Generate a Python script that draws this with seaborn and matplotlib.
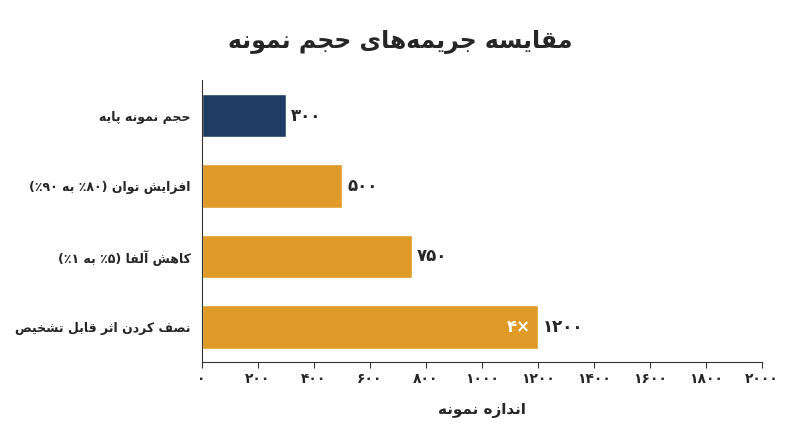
import matplotlib
matplotlib.use("Agg")
import matplotlib.pyplot as plt
import seaborn as sns
import pandas as pd

# simple Persian shaping (no external reshaper available)
FORMS = {
    'ا': (0xFE8D, 0xFE8E, None, None), 'آ': (0xFE81, 0xFE82, None, None),
    'ب': (0xFE8F, 0xFE90, 0xFE91, 0xFE92), 'ت': (0xFE95, 0xFE96, 0xFE97, 0xFE98),
    'ث': (0xFE99, 0xFE9A, 0xFE9B, 0xFE9C), 'ج': (0xFE9D, 0xFE9E, 0xFE9F, 0xFEA0),
    'ح': (0xFEA1, 0xFEA2, 0xFEA3, 0xFEA4), 'خ': (0xFEA5, 0xFEA6, 0xFEA7, 0xFEA8),
    'د': (0xFEA9, 0xFEAA, None, None), 'ر': (0xFEAD, 0xFEAE, None, None),
    'ز': (0xFEAF, 0xFEB0, None, None), 'س': (0xFEB1, 0xFEB2, 0xFEB3, 0xFEB4),
    'ش': (0xFEB5, 0xFEB6, 0xFEB7, 0xFEB8), 'ص': (0xFEB9, 0xFEBA, 0xFEBB, 0xFEBC),
    'ف': (0xFED1, 0xFED2, 0xFED3, 0xFED4), 'ق': (0xFED5, 0xFED6, 0xFED7, 0xFED8),
    'ل': (0xFEDD, 0xFEDE, 0xFEDF, 0xFEE0), 'م': (0xFEE1, 0xFEE2, 0xFEE3, 0xFEE4),
    'ن': (0xFEE5, 0xFEE6, 0xFEE7, 0xFEE8), 'ه': (0xFEE9, 0xFEEA, 0xFEEB, 0xFEEC),
    'و': (0xFEED, 0xFEEE, None, None), 'ی': (0xFBFC, 0xFBFD, 0xFBFE, 0xFBFF),
    'پ': (0xFB56, 0xFB57, 0xFB58, 0xFB59), 'ک': (0xFB8E, 0xFB8F, 0xFB90, 0xFB91),
    'گ': (0xFB92, 0xFB93, 0xFB94, 0xFB95),
}
DIGITS = set('۰۱۲۳۴۵۶۷۸۹')


def fa(s):
    out = []
    for i, c in enumerate(s):
        if c not in FORMS:
            if c != '\u200c':
                out.append(c)
            continue
        prev = s[i - 1] if i > 0 else ''
        nxt = s[i + 1] if i + 1 < len(s) else ''
        jp = prev in FORMS and FORMS[prev][2] is not None
        jn = nxt in FORMS and FORMS[c][2] is not None
        iso, fin, ini, med = FORMS[c]
        if jp and jn:
            out.append(chr(med))
        elif jp:
            out.append(chr(fin))
        elif jn:
            out.append(chr(ini))
        else:
            out.append(chr(iso))
    r = ''.join(out)[::-1]
    r = r.translate(str.maketrans('()', ')('))
    # put digit runs back in left-to-right order
    res, run = '', ''
    for c in r:
        if c in DIGITS:
            run += c
        else:
            res += run[::-1] + c
            run = ''
    return res + run[::-1]


categories = ['حجم نمونه پایه', 'افزایش توان (۸۰٪ به ۹۰٪)',
              'کاهش آلفا (۵٪ به ۱٪)', 'نصف کردن اثر قابل تشخیص']
values = [300, 500, 750, 1200]
value_labels = ['۳۰۰', '۵۰۰', '۷۵۰', '۱۲۰۰']
ticks = [0, 200, 400, 600, 800, 1000, 1200, 1400, 1600, 1800, 2000]
tick_labels = ['۰', '۲۰۰', '۴۰۰', '۶۰۰', '۸۰۰', '۱۰۰۰', '۱۲۰۰', '۱۴۰۰', '۱۶۰۰', '۱۸۰۰', '۲۰۰۰']
colors = ['#1f3d64', '#e09a27', '#e09a27', '#e09a27']

sns.set_style("white")
plt.rcParams['font.family'] = ['DejaVu Sans']

df = pd.DataFrame({'cat': [fa(c) for c in categories], 'val': values})

fig, ax = plt.subplots(figsize=(8, 4.47), dpi=100)
fig.subplots_adjust(left=0.252, right=0.952, top=0.82, bottom=0.19)
sns.barplot(data=df, x='val', y='cat', hue='cat', palette=colors, legend=False,
            width=0.62, saturation=1, ax=ax)

for i, (v, lab) in enumerate(zip(values, value_labels)):
    ax.text(v + 20, i, lab, va='center', ha='left', fontsize=12, fontweight='bold')
ax.text(values[3] - 25, 3, '۴×', va='center', ha='right', fontsize=12,
        fontweight='bold', color='white')

ax.set_xlim(0, 2000)
ax.set_xticks(ticks)
ax.set_xticklabels(tick_labels, fontsize=10, fontweight='bold')
ax.tick_params(axis='y', labelsize=9, length=0, pad=8)
for t in ax.get_yticklabels():
    t.set_fontweight('bold')
ax.tick_params(axis='x', length=4, color='#333333', direction='out', bottom=True)
ax.set_xlabel(fa('اندازه نمونه'), fontsize=11, fontweight='bold', labelpad=12)
ax.set_ylabel('')
fig.text(0.5, 0.905, fa('مقایسه جریمه‌های حجم نمونه'), fontsize=17,
         fontweight='bold', ha='center', va='center')
sns.despine(ax=ax)
for s in ['left', 'bottom']:
    ax.spines[s].set_color('#333333')

fig.savefig('out.png', dpi=100)
